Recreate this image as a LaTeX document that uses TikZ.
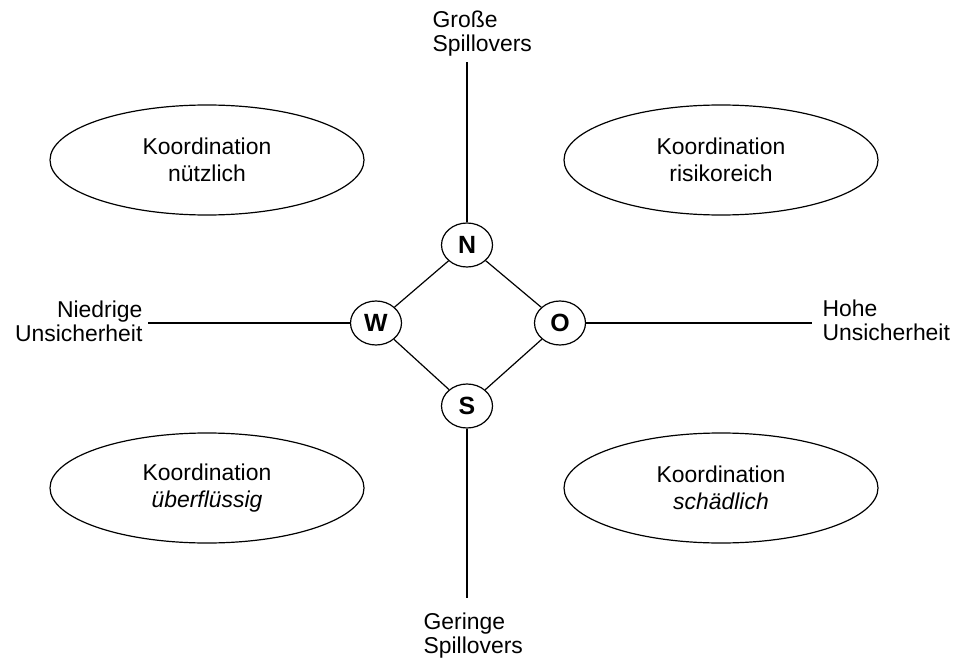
\documentclass[tikz,border=0pt]{standalone}
\usepackage{fontspec}
\setmainfont{Liberation Sans}
\usetikzlibrary{shapes.geometric}
\begin{document}
\begin{tikzpicture}[x=1bp,y=-1bp,
  every path/.style={line width=1.2bp},
  lbl/.style={inner sep=0pt,font=\fontsize{23}{24}\selectfont},
  region/.style={draw,ellipse,inner sep=0pt,minimum width=314bp,minimum height=110bp,align=center,font=\fontsize{23}{27}\selectfont},
  pole/.style={draw,ellipse,inner sep=0pt,minimum width=51bp,minimum height=44bp,font=\fontsize{25}{25}\selectfont\bfseries}]
\useasboundingbox (0,0) rectangle (960,660);
% quadrant ellipses
\node[region] (nw) at (207,160) {Koordination\\nützlich};
\node[region] (ne) at (721,160) {Koordination\\risikoreich};
\node[region] (sw) at (207,488) {Koordination\\\itshape überflüssig};
\node[region] (se) at (721,488) {Koordination\\\itshape schädlich};
% poles
\node[pole] (N) at (467,245) {N};
\node[pole] (W) at (376,323) {W};
\node[pole] (O) at (560,323) {O};
\node[pole] (S) at (467,406) {S};
% axis ends
\coordinate (top) at (467,62);
\coordinate (bot) at (467,598);
\coordinate (lft) at (148,323);
\coordinate (rgt) at (812,323);
\draw (N) -- (top);
\draw (S) -- (bot);
\draw (W) -- (lft);
\draw (O) -- (rgt);
\draw (N) -- (W) -- (S) -- (O) -- (N);
% axis labels
\node[lbl,anchor=north west,align=left] (tl) at (432,10) {Große\\Spillovers};
\node[lbl,anchor=north west,align=left] (bl) at (423,612) {Geringe\\Spillovers};
\node[lbl,anchor=north east,align=right] (ll) at (143,300) {Niedrige\\Unsicherheit};
\node[lbl,anchor=north west,align=left] (rl) at (822,299) {Hohe\\Unsicherheit};
\end{tikzpicture}
\end{document}
